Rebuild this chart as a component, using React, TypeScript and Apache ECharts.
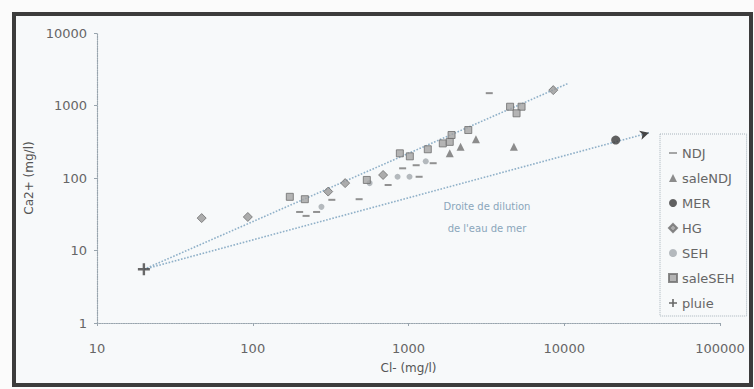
import React, { useEffect, useRef } from "react";
import * as echarts from "echarts";

// ---- data (Cl- mg/l , Ca2+ mg/l) ----
const NDJ: number[][] = [
  [200, 34], [220, 30], [257, 34], [322, 50], [482, 51], [740, 80],
  [917, 136], [1120, 150], [1170, 104], [1440, 160], [3300, 1480],
];
const saleNDJ: number[][] = [[1840, 219], [2160, 270], [2710, 342], [4750, 270]];
const MER: number[][] = [[21400, 334]];
const HG: number[][] = [[47, 28], [93, 29], [305, 65], [392, 85], [687, 110], [8500, 1630]];
const SEH: number[][] = [[276, 40], [563, 85], [851, 104], [1015, 104], [1290, 170]];
const saleSEH: number[][] = [
  [173, 55], [216, 51], [540, 94], [880, 219], [1020, 199], [1330, 249],
  [1660, 300], [1840, 315], [1890, 392], [2420, 459], [4490, 962], [5320, 962], [4940, 780],
];
const pluie: number[][] = [[20, 5.5]];
const evapLine: number[][] = [[20, 5.5], [10500, 2000]];
const dilutionLine: number[][] = [[20, 5.5], [35000, 420]];

const xTicks = [10, 100, 1000, 10000, 100000];
const yTicks = [1, 10, 100, 1000, 10000];
const legendNames = ["NDJ", "saleNDJ", "MER", "HG", "SEH", "saleSEH", "pluie"];

const PLUS = "path://M4,0H6V4H10V6H6V10H4V6H0V4H4Z";
const DASH = "path://M0,0H10V2H0Z";

export default function App() {
  const ref = useRef<HTMLDivElement>(null);
  useEffect(() => {
    if (!ref.current) return;
    const chart = echarts.init(ref.current, undefined, { renderer: "svg" });
    const font = "DejaVu Sans";
    const lineColor = "#8fb0c8";
    const axisCommon = {
      type: "log" as const,
      logBase: 10,
      nameLocation: "middle" as const,
      nameTextStyle: { color: "#555", fontSize: 12, fontFamily: font },
      axisLine: { show: true, lineStyle: { color: "#98a4ad", type: "dotted" as const, width: 1.2 } },
      axisTick: { show: true, length: 3, lineStyle: { color: "#98a4ad" } },
      splitLine: { show: false },
      minorTick: { show: false },
      axisLabel: { color: "#666", fontSize: 13, fontFamily: font, formatter: (v: number) => String(v) },
    };
    chart.setOption({
      animation: false,
      backgroundColor: "transparent",
      grid: { left: 97, right: 34, top: 33, bottom: 66 },
      xAxis: {
        ...axisCommon,
        min: xTicks[0],
        max: xTicks[xTicks.length - 1],
        name: "Cl- (mg/l)",
        nameGap: 39,
        axisLabel: { ...axisCommon.axisLabel, margin: 19 },
      },
      yAxis: {
        ...axisCommon,
        min: yTicks[0],
        max: yTicks[yTicks.length - 1],
        name: "Ca2+ (mg/l)",
        nameGap: 60,
        axisLabel: { ...axisCommon.axisLabel, margin: 10 },
      },
      legend: {
        orient: "vertical",
        left: 660,
        top: 134,
        padding: [12, 12, 6, 8],
        itemGap: 11,
        itemWidth: 8,
        itemHeight: 8,
        borderColor: "#a8b4bc",
        borderWidth: 1,
        borderType: "dotted",
        textStyle: { color: "#666", fontSize: 13, fontFamily: font, lineHeight: 14 },
        data: legendNames.map((n) => (n === "NDJ" ? { name: n, icon: DASH } : { name: n })),
      },
      graphic: [
        {
          type: "rect",
          z: -10,
          shape: { x: 14, y: 14, width: 737, height: 371 },
          style: { fill: "#f7f9fa", stroke: "#3c3c3c", lineWidth: 4 },
        },
        {
          type: "text",
          x: 487,
          y: 195,
          style: {
            text: "Droite de dilution\nde l'eau de mer",
            fill: "#8aa6ba",
            fontSize: 10,
            fontFamily: font,
            align: "center",
            lineHeight: 22,
          },
        },
      ],
      series: [
        {
          name: "evap",
          type: "line",
          data: evapLine,
          symbol: "none",
          lineStyle: { color: lineColor, type: "dotted", width: 1.6 },
          z: 1,
        },
        {
          name: "dilution",
          type: "line",
          data: dilutionLine.map((p, i) =>
            i === dilutionLine.length - 1
              ? { value: p, symbol: "arrow", symbolSize: [7, 9], symbolRotate: -75, itemStyle: { color: "#444" } }
              : { value: p, symbol: "none" }
          ),
          showSymbol: true,
          lineStyle: { color: lineColor, type: "dotted", width: 1.6 },
          z: 1,
        },
        { name: "NDJ", type: "scatter", data: NDJ, symbol: "rect", symbolSize: [7, 2], itemStyle: { color: "#777" } },
        { name: "saleNDJ", type: "scatter", data: saleNDJ, symbol: "triangle", symbolSize: 8, itemStyle: { color: "#707070" } },
        { name: "MER", type: "scatter", data: MER, symbol: "circle", symbolSize: 9, itemStyle: { color: "#3a3a3a" } },
        { name: "HG", type: "scatter", data: HG, symbol: "diamond", symbolSize: 9, itemStyle: { color: "#999", borderColor: "#6e6e6e", borderWidth: 1 } },
        { name: "SEH", type: "scatter", data: SEH, symbol: "circle", symbolSize: 6, itemStyle: { color: "#a3a9ae" } },
        { name: "saleSEH", type: "scatter", data: saleSEH, symbol: "rect", symbolSize: 7, itemStyle: { color: "#a2a2a2", borderColor: "#6e6e6e", borderWidth: 1 } },
        { name: "pluie", type: "scatter", data: pluie, symbol: PLUS, symbolSize: 12, itemStyle: { color: "#444" } },
      ],
    });
    return () => chart.dispose();
  }, []);
  return (
    <div style={{ position: "fixed", left: 0, top: 0, width: 754, height: 389, background: "#fbfbfb" }}>
      <div ref={ref} style={{ width: 754, height: 389 }} />
    </div>
  );
}
